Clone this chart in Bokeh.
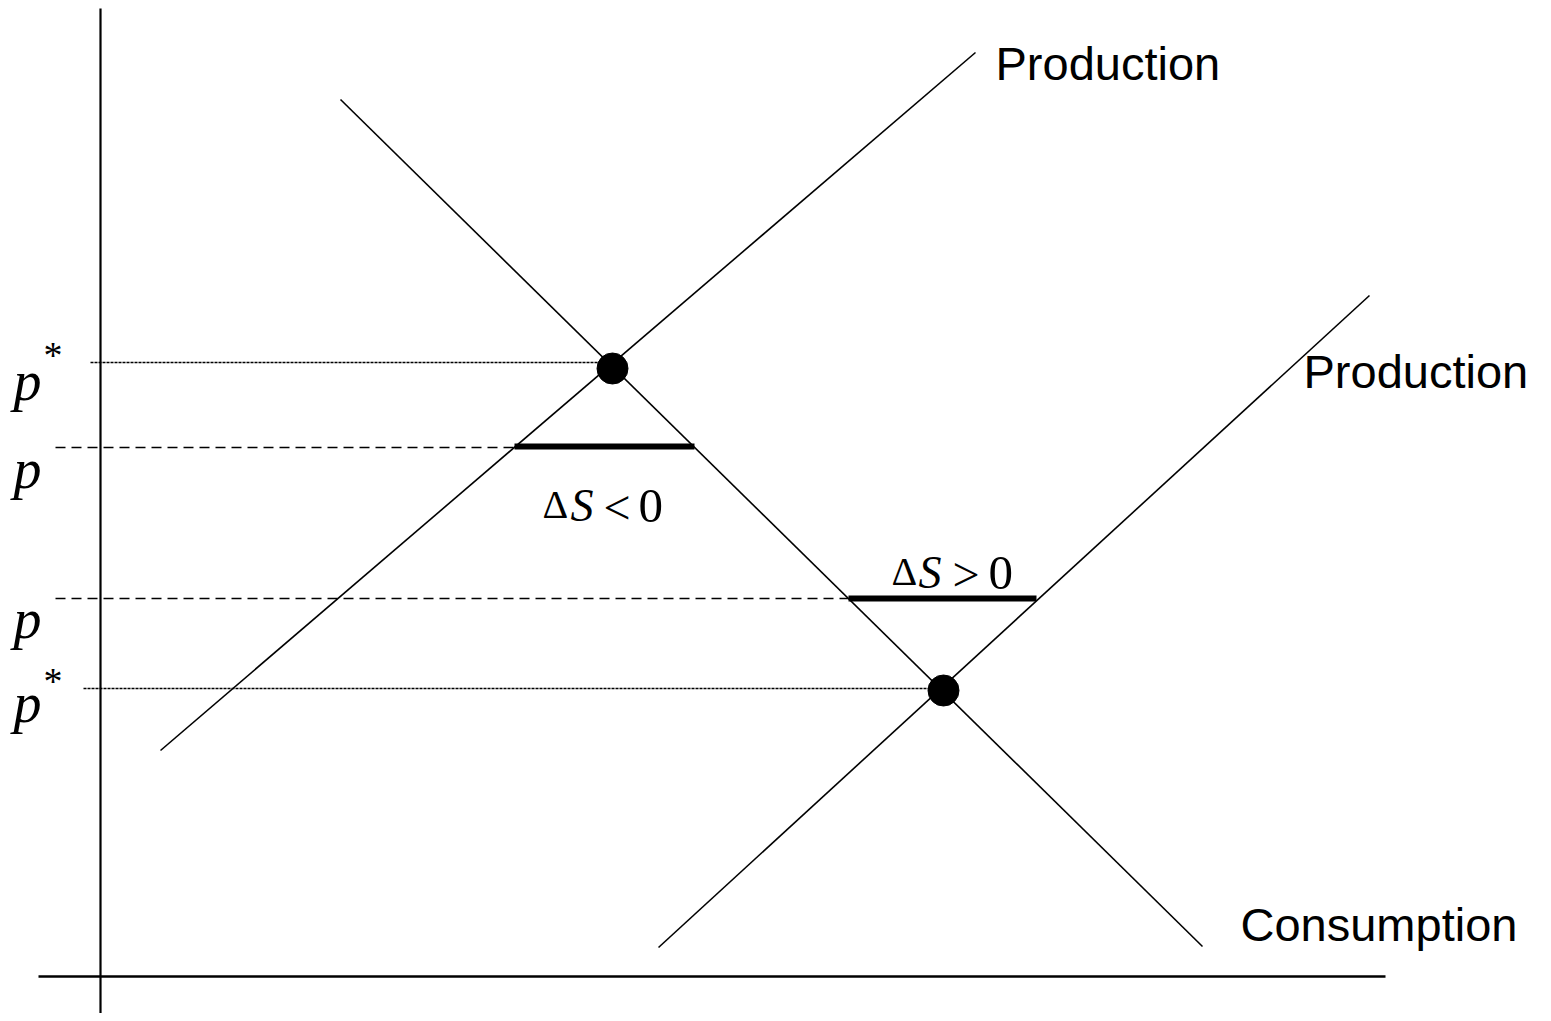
from bokeh.plotting import figure
from bokeh.models import Range1d
from bokeh.core.properties import value
from bokeh.embed import file_html
from bokeh.resources import INLINE

# ---- data (in picture units: x to the right, y downward) ----
# axes
axis_x_start, axis_x_end, axis_x_level = 38, 1385, 976
axis_y_start, axis_y_end, axis_y_level = 8, 1021, 100

# curves: (x0, y0, x1, y1)
prod1 = [160, 750, 975, 52]       # upper production
prod2 = [658, 947, 1369, 295]     # lower production
cons = [340, 99, 1202, 946]       # consumption

# equilibria
eq_x = [612, 943]
eq_y = [368, 690]

# price levels
pstar_y = [362, 688]
pstar_x_end = [600, 930]
pstar_x_start = [90, 83]
p_y = [447, 598]
p_x_start = [55, 55]
p_x_end = [515, 848]

# stock change bars
bar_x0 = [514, 848]
bar_x1 = [694, 1036]
bar_y = [446, 598]

# labels
curve_labels = ["Production", "Production", "Consumption"]
curve_label_x = [995, 1303, 1240]
curve_label_y = [63, 371, 924]

W, H = 1543, 1013
p = figure(width=W, height=H, x_range=Range1d(0, W), y_range=Range1d(H, 0),
           output_backend="svg", toolbar_location=None, min_border=0)
p.axis.visible = False
p.grid.visible = False
p.outline_line_color = None
p.background_fill_color = "white"

# axes
p.segment(x0=[axis_x_start], y0=[axis_x_level], x1=[axis_x_end], y1=[axis_x_level],
          line_color="black", line_width=2.5)
p.segment(x0=[axis_y_level], y0=[axis_y_start], x1=[axis_y_level], y1=[axis_y_end],
          line_color="black", line_width=2.2)

# price lines
p.segment(x0=pstar_x_start, y0=pstar_y, x1=pstar_x_end, y1=pstar_y,
          line_color="black", line_width=1.5, line_dash="3 1")
p.segment(x0=p_x_start, y0=p_y, x1=p_x_end, y1=p_y,
          line_color="black", line_width=1.5, line_dash="10 6")

# curves
for c in (prod1, prod2, cons):
    p.line(x=[c[0], c[2]], y=[c[1], c[3]], line_color="black", line_width=1.6)

# bars
p.segment(x0=bar_x0, y0=bar_y, x1=bar_x1, y1=bar_y, line_color="black", line_width=6)

# equilibrium points
p.scatter(x=eq_x, y=eq_y, size=31, marker="circle", fill_color="black", line_color="black")

# curve labels
p.text(x=curve_label_x, y=curve_label_y, text=curve_labels, text_font=value("Liberation Sans"),
       text_font_size="47px", text_color="black", text_baseline="alphabetic", text_align="left")

# price labels
serif = value("Liberation Serif")
p.text(x=[13, 13, 13, 13], y=[380, 468, 618, 702], text=["p", "p", "p", "p"], text_font=serif,
       text_font_style="italic", text_font_size="56px", text_baseline="alphabetic")
p.text(x=[43, 43], y=[354, 680], text=["*", "*"], text_font=serif,
       text_font_size="38px", text_baseline="alphabetic")

# ΔS labels
p.text(x=[542, 891], y=[504, 571], text=["Δ", "Δ"], text_font=serif,
       text_font_size="40px", text_baseline="alphabetic")
p.text(x=[570, 918], y=[505, 572], text=["S", "S"], text_font=serif,
       text_font_style="italic", text_font_size="46px", text_baseline="alphabetic")
p.text(x=[603, 952], y=[507, 574], text=["<", ">"], text_font=serif,
       text_font_size="48px", text_baseline="alphabetic")
p.text(x=[638, 988], y=[505, 572], text=["0", "0"], text_font=serif,
       text_font_size="49px", text_baseline="alphabetic")

open("out.html", "w").write(file_html(p, INLINE))
